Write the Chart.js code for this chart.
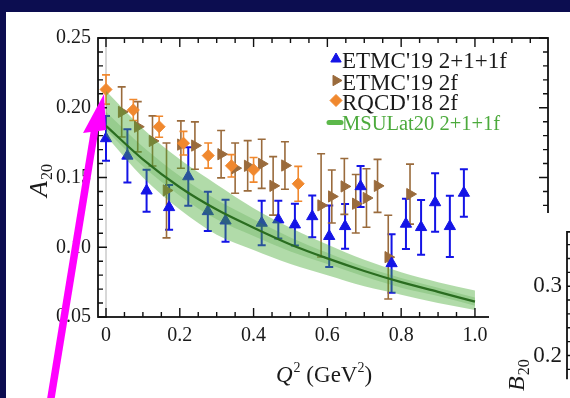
<!DOCTYPE html>
<html>
<head>
<meta charset="utf-8">
<script src="https://cdn.jsdelivr.net/npm/chart.js@4.4.0/dist/chart.umd.min.js"></script>
<style>
  html, body { margin: 0; padding: 0; }
  body { width: 570px; height: 398px; background: #0c0d50; position: relative; overflow: hidden; }
  #panel { position: absolute; left: 6px; top: 12px; right: 0; bottom: 0; background: #fff; }
  #chartA { position: absolute; left: 0; top: 0; }
  #cover { position: absolute; left: 489px; top: 213px; width: 81px; height: 185px; background: #fff; }
  #chartB { position: absolute; left: 489px; top: 213px; }
  #arrow { position: absolute; left: 0; top: 0; }
</style>
</head>
<body>
<div id="panel"></div>
<canvas id="chartA" width="570" height="398"></canvas>
<div id="cover"></div>
<canvas id="chartB" width="81" height="185"></canvas>
<svg id="arrow" width="570" height="398" viewBox="0 0 570 398">
  <line x1="50" y1="404" x2="95" y2="128" stroke="#ff00ff" stroke-width="7.5"/>
  <polygon points="104,94 83,133 106,130" fill="#ff00ff"/>
</svg>
<script>
// MSULat20 fit band
const q2Grid = [0, 0.1, 0.2, 0.3, 0.4, 0.5, 0.6, 0.7, 0.8, 0.9, 1.0];
const msuCentral = [0.187, 0.163, 0.143, 0.127, 0.114, 0.102, 0.092, 0.083, 0.075, 0.068, 0.061];
const msuOuterHi = [0.212, 0.185, 0.163, 0.145, 0.128, 0.114, 0.102, 0.091, 0.082, 0.075, 0.069];
const msuOuterLo = [0.180, 0.150, 0.127, 0.109, 0.098, 0.088, 0.080, 0.072, 0.066, 0.060, 0.055];
const msuInnerHi = [0.197, 0.172, 0.151, 0.134, 0.120, 0.107, 0.096, 0.086, 0.078, 0.071, 0.064];
const msuInnerLo = [0.184, 0.158, 0.137, 0.120, 0.108, 0.097, 0.088, 0.079, 0.071, 0.065, 0.058];

// ETMC'19 2+1+1f
const etmc4Q2  = [0.000, 0.058, 0.110, 0.171, 0.223, 0.276, 0.324, 0.422, 0.467, 0.512, 0.559, 0.605, 0.648, 0.690, 0.774, 0.813, 0.854, 0.892, 0.932, 0.970];
const etmc4A20 = [0.178, 0.1655, 0.1405, 0.1286, 0.1507, 0.1257, 0.119, 0.1174, 0.1198, 0.1162, 0.1221, 0.1079, 0.115, 0.1436, 0.0884, 0.1167, 0.1143, 0.1321, 0.115, 0.1389];
const etmc4Err = [0.016, 0.019, 0.015, 0.016, 0.021, 0.014, 0.015, 0.016, 0.0135, 0.015, 0.015, 0.022, 0.016, 0.0147, 0.021, 0.018, 0.0196, 0.021, 0.022, 0.017];

// ETMC'19 2f
const etmc2Q2  = [0.0425, 0.086, 0.126, 0.164, 0.203, 0.241, 0.312, 0.350, 0.384, 0.422, 0.453, 0.485, 0.583, 0.612, 0.646, 0.677, 0.706, 0.736, 0.765, 0.824];
const etmc2A20 = [0.197, 0.1864, 0.1762, 0.1407, 0.1736, 0.1729, 0.1667, 0.1567, 0.1584, 0.1598, 0.144, 0.1586, 0.130, 0.1364, 0.1436, 0.1312, 0.1353, 0.144, 0.0929, 0.1381];
const etmc2Err = [0.018, 0.018, 0.018, 0.034, 0.017, 0.017, 0.017, 0.018, 0.018, 0.0176, 0.021, 0.017, 0.037, 0.019, 0.020, 0.021, 0.021, 0.019, 0.030, 0.0215];

// RQCD'18 2f
const rqcdQ2  = [0.000, 0.074, 0.144, 0.210, 0.277, 0.340, 0.400, 0.521];
const rqcdA20 = [0.2131, 0.1984, 0.1864, 0.1746, 0.1657, 0.1584, 0.1555, 0.1455];
const rqcdErr = [0.0105, 0.0075, 0.0075, 0.0085, 0.009, 0.008, 0.0088, 0.0125];

const xTickLabels = ['0', '0.2', '0.4', '0.6', '0.8', '1.0'];

Chart.defaults.font.family = '"Liberation Serif", "DejaVu Serif", serif';
Chart.defaults.color = '#1a1a1a';

const pts = (xs, ys) => xs.map((x, i) => ({ x: x, y: ys[i] }));

const BLUE = '#1414e6', BROWN = '#9a6b3c', ORANGE = '#f0882e';

// error bars go under markers and under the green band
const errorBars = {
  id: 'errorBars',
  beforeDatasetsDraw(chart) {
    const { ctx, chartArea, scales: { x, y } } = chart;
    ctx.save();
    ctx.beginPath();
    ctx.rect(chartArea.left, chartArea.top, chartArea.width, chartArea.height);
    ctx.clip();
    // thin grey line at Q^2 = 0
    ctx.strokeStyle = '#b0b0b0';
    ctx.lineWidth = 1;
    ctx.beginPath();
    ctx.moveTo(x.getPixelForValue(0), chartArea.top);
    ctx.lineTo(x.getPixelForValue(0), chartArea.bottom);
    ctx.stroke();
    chart.data.datasets.forEach(ds => {
      if (!ds.errors) return;
      ctx.strokeStyle = ds.borderColor;
      ctx.lineWidth = ds.errorWidth;
      ds.data.forEach((p, i) => {
        const px = x.getPixelForValue(p.x);
        const top = y.getPixelForValue(p.y + ds.errors[i]);
        const bot = y.getPixelForValue(p.y - ds.errors[i]);
        ctx.beginPath();
        ctx.moveTo(px, top); ctx.lineTo(px, bot);
        ctx.moveTo(px - 4, top); ctx.lineTo(px + 4, top);
        ctx.moveTo(px - 4, bot); ctx.lineTo(px + 4, bot);
        ctx.stroke();
      });
    });
    ctx.restore();
  }
};

// frame with inward ticks, legend and axis titles
const frameA = {
  id: 'frameA',
  afterDraw(chart) {
    const { ctx, chartArea: a, scales: { x, y } } = chart;
    ctx.save();
    ctx.strokeStyle = '#111';
    ctx.lineWidth = 1.8;
    ctx.strokeRect(a.left, a.top, a.width, a.height);
    ctx.lineWidth = 1.4;
    ctx.beginPath();
    for (let k = 0; k * 0.05 <= x.max; k++) {
      const px = x.getPixelForValue(k * 0.05);
      const len = k % 4 === 0 ? 9 : 5;
      ctx.moveTo(px, a.bottom); ctx.lineTo(px, a.bottom - len);
      ctx.moveTo(px, a.top); ctx.lineTo(px, a.top + len);
    }
    for (let k = 5; k <= 25; k++) {
      const py = y.getPixelForValue(k / 100);
      const len = k % 5 === 0 ? 9 : 5;
      ctx.moveTo(a.left, py); ctx.lineTo(a.left + len, py);
      ctx.moveTo(a.right, py); ctx.lineTo(a.right - len, py);
    }
    ctx.stroke();

    // legend
    const rows = [
      { ds: chart.data.datasets[5], y: 68, font: '23px "Liberation Serif"', color: '#1a1a1a' },
      { ds: chart.data.datasets[6], y: 89.5, font: '23px "Liberation Serif"', color: '#1a1a1a' },
      { ds: chart.data.datasets[7], y: 109.5, font: '23px "Liberation Serif"', color: '#1a1a1a' },
      { ds: chart.data.datasets[0], y: 129.5, font: '20.5px "Liberation Serif"', color: '#4caa3c' }
    ];
    rows.forEach(r => {
      const ds = r.ds;
      if (ds.pointStyle) {
        ctx.fillStyle = ds.backgroundColor;
        ctx.strokeStyle = ds.borderColor;
        ctx.lineWidth = 1;
        Chart.helpers.drawPoint(ctx, { pointStyle: ds.pointStyle, rotation: ds.rotation || 0, radius: ds.legendRadius, borderWidth: 1 }, 336, r.y - 9);
      } else {
        ctx.strokeStyle = '#5cb84a';
        ctx.lineWidth = 5;
        ctx.lineCap = 'round';
        ctx.beginPath();
        ctx.moveTo(329, r.y - 7); ctx.lineTo(341, r.y - 7);
        ctx.stroke();
      }
      ctx.font = r.font;
      ctx.fillStyle = r.color;
      ctx.textBaseline = 'alphabetic';
      ctx.textAlign = 'left';
      ctx.fillText(ds.label, 342, r.y);
    });

    // y title A_20
    ctx.fillStyle = '#1a1a1a';
    ctx.save();
    ctx.translate(47, 197);
    ctx.rotate(-Math.PI / 2);
    ctx.font = 'italic 26px "Liberation Serif"';
    ctx.fillText('A', 0, 0);
    const wA = ctx.measureText('A').width;
    ctx.font = '16px "Liberation Serif"';
    ctx.fillText('20', wA + 1, 5);
    ctx.restore();

    // x title Q^2 (GeV^2)
    let cx = 276;
    const by = 382;
    ctx.font = 'italic 23px "Liberation Serif"';
    ctx.fillText('Q', cx, by); cx += ctx.measureText('Q').width + 1;
    ctx.font = '14px "Liberation Serif"';
    ctx.fillText('2', cx, by - 10); cx += ctx.measureText('2').width;
    ctx.font = '23px "Liberation Serif"';
    ctx.fillText(' (GeV', cx, by); cx += ctx.measureText(' (GeV').width;
    ctx.font = '14px "Liberation Serif"';
    ctx.fillText('2', cx, by - 10); cx += ctx.measureText('2').width;
    ctx.font = '23px "Liberation Serif"';
    ctx.fillText(')', cx, by);
    ctx.restore();
  }
};

const lineStyle = { type: 'line', showLine: true, pointRadius: 0, borderWidth: 0, cubicInterpolationMode: 'monotone' };

new Chart(document.getElementById('chartA'), {
  type: 'scatter',
  data: {
    datasets: [
      { ...lineStyle, label: 'MSULat20 2+1+1f', data: pts(q2Grid, msuCentral), borderColor: '#2a6d20', borderWidth: 2.2, fill: false, order: 0 },
      { ...lineStyle, label: 'inner hi', data: pts(q2Grid, msuInnerHi), fill: '+1', backgroundColor: 'rgba(60,150,45,0.22)', order: 1 },
      { ...lineStyle, label: 'inner lo', data: pts(q2Grid, msuInnerLo), fill: false, order: 1 },
      { ...lineStyle, label: 'outer hi', data: pts(q2Grid, msuOuterHi), fill: '+1', backgroundColor: 'rgba(70,170,50,0.42)', order: 2 },
      { ...lineStyle, label: 'outer lo', data: pts(q2Grid, msuOuterLo), fill: false, order: 2 },
      { label: "ETMC'19 2+1+1f", data: pts(etmc4Q2, etmc4A20), errors: etmc4Err, errorWidth: 2,
        pointStyle: 'triangle', pointRadius: 6.5, legendRadius: 6, borderWidth: 1, backgroundColor: BLUE, borderColor: BLUE, order: 4 },
      { label: "ETMC'19 2f", data: pts(etmc2Q2, etmc2A20), errors: etmc2Err, errorWidth: 1.6,
        pointStyle: 'triangle', rotation: 90, pointRadius: 6.5, legendRadius: 6, borderWidth: 1, backgroundColor: BROWN, borderColor: BROWN, order: 5 },
      { label: "RQCD'18 2f", data: pts(rqcdQ2, rqcdA20), errors: rqcdErr, errorWidth: 1.6,
        pointStyle: 'rectRot', pointRadius: 6, legendRadius: 6, borderWidth: 1, backgroundColor: ORANGE, borderColor: ORANGE, order: 3 }
    ]
  },
  options: {
    responsive: false,
    animation: false,
    layout: { padding: { top: 38, right: 22, left: 0, bottom: 0 } },
    plugins: { legend: { display: false }, tooltip: { enabled: false } },
    scales: {
      x: {
        min: -0.0217, max: 1.198,
        afterFit: s => { s.height = 81; },
        grid: { display: false, drawTicks: false }, border: { display: false },
        ticks: { stepSize: 0.2, includeBounds: false, padding: 7, font: { size: 20 },
                 callback: (v, i) => xTickLabels[i] }
      },
      y: {
        min: 0.05, max: 0.25,
        afterFit: s => { s.width = 98; },
        grid: { display: false, drawTicks: false }, border: { display: false },
        ticks: { stepSize: 0.05, padding: 7, font: { size: 20 }, callback: v => v.toFixed(2) }
      }
    }
  },
  plugins: [errorBars, frameA]
});

// partially visible B20 panel
const b20Ticks = ['0.2', '0.3'];
const frameB = {
  id: 'frameB',
  afterDraw(chart) {
    const { ctx, chartArea: a, scales: { y } } = chart;
    ctx.save();
    ctx.strokeStyle = '#111';
    ctx.lineWidth = 1.8;
    ctx.beginPath();
    ctx.moveTo(a.left, a.bottom); ctx.lineTo(a.left, a.top); ctx.lineTo(a.right, a.top);
    ctx.stroke();
    ctx.lineWidth = 1.4;
    ctx.beginPath();
    for (let k = 8; k <= 19; k++) {
      const py = y.getPixelForValue(k / 50);
      if (py < a.top || py > a.bottom) continue;
      ctx.moveTo(a.left, py); ctx.lineTo(a.left + (k % 5 === 0 ? 8 : 5), py);
    }
    ctx.stroke();
    ctx.fillStyle = '#1a1a1a';
    ctx.translate(35, 178);
    ctx.rotate(-Math.PI / 2);
    ctx.font = 'italic 24px "Liberation Serif"';
    ctx.fillText('B', 0, 0);
    const wB = ctx.measureText('B').width;
    ctx.font = '16px "Liberation Serif"';
    ctx.fillText('20', wB + 1, 5);
    ctx.restore();
  }
};

new Chart(document.getElementById('chartB'), {
  type: 'scatter',
  data: { datasets: [{ data: [] }] },
  options: {
    responsive: false,
    animation: false,
    layout: { padding: { top: 17, right: 0, left: 0, bottom: 0 } },
    plugins: { legend: { display: false }, tooltip: { enabled: false } },
    scales: {
      x: { display: false, min: 0, max: 1 },
      y: {
        min: 0.1658, max: 0.3785,
        afterFit: s => { s.width = 78; },
        grid: { display: false, drawTicks: false }, border: { display: false },
        ticks: { stepSize: 0.1, includeBounds: false, padding: 5, font: { size: 23 },
                 callback: (v, i) => b20Ticks[i] }
      }
    }
  },
  plugins: [frameB]
});
</script>
</body>
</html>
